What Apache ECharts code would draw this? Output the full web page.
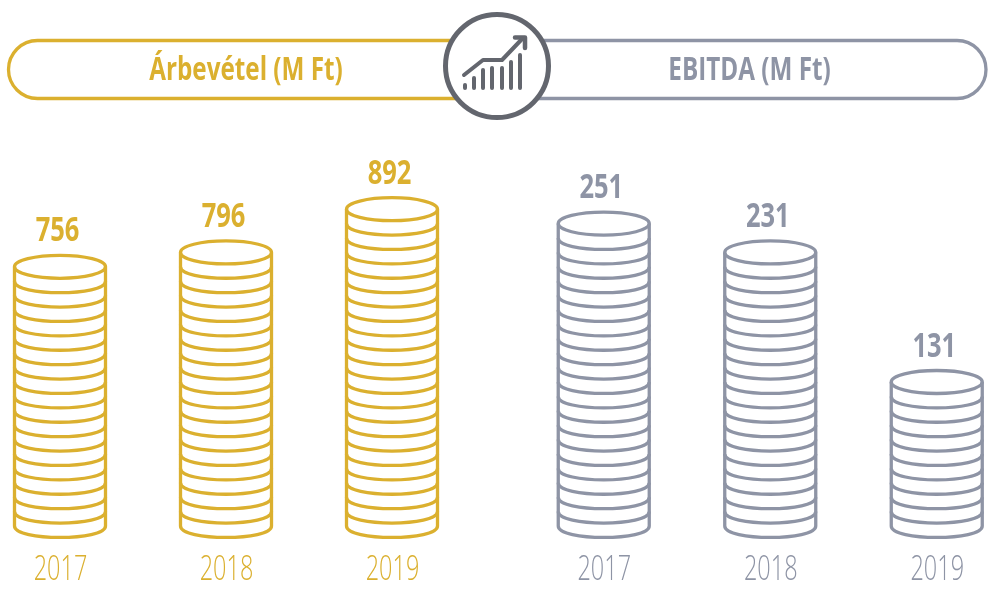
<!DOCTYPE html>
<html>
<head>
<meta charset="utf-8">
<title>Árbevétel, EBITDA</title>
<style>
	html, body { margin: 0; padding: 0; background: #fff; }
	#chart { width: 993px; height: 592px; }
</style>
<script src="https://cdn.jsdelivr.net/npm/echarts@6/dist/echarts.min.js"></script>
</head>
<body>
<div id="chart"></div>
<script>
var years = ["2017", "2018", "2019"]
var revenueValues = [756, 796, 892]
var revenueCoins = [18, 19, 22]
var ebitdaValues = [251, 231, 131]
var ebitdaCoins = [21, 19, 10]
var revenueTitle = "Árbevétel (M Ft)"
var ebitdaTitle = "EBITDA (M Ft)"

var GOLD = "#dbb02f"
var GRAY = "#8e94a5"
var DARK = "#63666e"
var FONT = "'Open Sans', sans-serif"

var COIN_RX = 45.5
var COIN_RY = 11.5
var LINE = 3.3

// one stack of coins, api.value: 0 year, 1 coins, 2 label
function renderStack(color) {
	return function(params, api) {
		var coins = api.value(1)
		var base = api.coord([api.value(0), 0])
		var top = api.coord([api.value(0), coins])
		var cx = base[0]
		var style = { fill: null, stroke: color, lineWidth: LINE }
		var children = [
			{
				type: "line",
				shape: { x1: cx - COIN_RX, y1: top[1], x2: cx - COIN_RX, y2: base[1] },
				style: style
			},
			{
				type: "line",
				shape: { x1: cx + COIN_RX, y1: top[1], x2: cx + COIN_RX, y2: base[1] },
				style: style
			},
			{
				type: "ellipse",
				shape: { cx: cx, cy: top[1], rx: COIN_RX, ry: COIN_RY },
				style: style
			},
			{
				// condensed look, no narrow font is installed
				type: "text",
				x: cx - 2.5,
				y: top[1] - 35,
				scaleX: 0.75,
				style: {
					text: String(api.value(2)),
					fill: color,
					font: "bold 34px " + FONT,
					textAlign: "center",
					textVerticalAlign: "middle"
				}
			},
			{
				type: "text",
				x: cx + 0.5,
				y: base[1] + 44,
				scaleX: 0.69,
				style: {
					text: years[api.value(0)],
					fill: color,
					font: "300 34px " + FONT,
					textAlign: "center",
					textVerticalAlign: "middle"
				}
			}
		]
		for (var i = 0; i < coins; i++) {
			var y = api.coord([api.value(0), i])[1]
			children.push({
				type: "bezierCurve",
				shape: {
					x1: cx - COIN_RX,
					y1: y,
					x2: cx + COIN_RX,
					y2: y,
					cpx1: cx - COIN_RX,
					cpy1: y + COIN_RY * 1.33,
					cpx2: cx + COIN_RX,
					cpy2: y + COIN_RY * 1.33
				},
				style: style
			})
		}
		return { type: "group", children: children }
	}
}

function stackData(coins, values) {
	return coins.map(function(c, i) {
		return [i, c, values[i]]
	})
}

function xAxisFor(gridIndex) {
	return {
		type: "category",
		gridIndex: gridIndex,
		data: years,
		axisLine: { show: false },
		axisTick: { show: false },
		axisLabel: { show: false }
	}
}

function yAxisFor(gridIndex) {
	return {
		type: "value",
		gridIndex: gridIndex,
		min: 0,
		max: 30,
		show: false
	}
}

function pill(x, width, color) {
	return {
		type: "rect",
		z: 1,
		shape: { x: x, y: 40.5, width: width, height: 58, r: 29 },
		style: { fill: "#fff", stroke: color, lineWidth: LINE }
	}
}

function title(text, x, color) {
	return {
		type: "text",
		z: 2,
		x: x,
		y: 71,
		scaleX: 0.735,
		style: {
			text: text,
			fill: color,
			font: "bold 33px " + FONT,
			textAlign: "center",
			textVerticalAlign: "middle"
		}
	}
}

function iconLine(points, width) {
	return {
		type: "polyline",
		z: 4,
		shape: { points: points },
		style: {
			fill: null,
			stroke: DARK,
			lineWidth: width,
			lineCap: "round",
			lineJoin: "round"
		}
	}
}

var iconBars = [
	[465, 85],
	[474, 78],
	[483, 70],
	[492, 68],
	[502, 68],
	[511, 62],
	[520, 55]
]

var graphics = [
	pill(8.5, 500, GOLD),
	pill(486, 500, GRAY),
	title(revenueTitle, 246, GOLD),
	title(ebitdaTitle, 749.5, GRAY),
	{
		type: "circle",
		z: 3,
		shape: { cx: 497, cy: 66, r: 51.5 },
		style: { fill: "#fff", stroke: DARK, lineWidth: 5 }
	},
	iconLine([[464, 75], [483, 60], [502, 60], [522, 39]], 4),
	iconLine([[515, 37.5], [525, 37.5], [525, 48]], 4.5)
].concat(
	iconBars.map(function(b) {
		return iconLine([[b[0], b[1]], [b[0], 88]], 4)
	})
)

var myChart = echarts.init(document.getElementById("chart"), null, { renderer: "canvas" })
myChart.setOption({
	animation: false,
	grid: [
		{ left: -23, width: 498, top: 94, height: 432, outerBoundsMode: "none" },
		{ left: 520.5, width: 499.5, top: 94, height: 432, outerBoundsMode: "none" }
	],
	xAxis: [xAxisFor(0), xAxisFor(1)],
	yAxis: [yAxisFor(0), yAxisFor(1)],
	series: [
		{
			type: "custom",
			xAxisIndex: 0,
			yAxisIndex: 0,
			clip: false,
			renderItem: renderStack(GOLD),
			encode: { x: 0, y: 1 },
			data: stackData(revenueCoins, revenueValues)
		},
		{
			type: "custom",
			xAxisIndex: 1,
			yAxisIndex: 1,
			clip: false,
			renderItem: renderStack(GRAY),
			encode: { x: 0, y: 1 },
			data: stackData(ebitdaCoins, ebitdaValues)
		}
	],
	graphic: { elements: graphics }
})
</script>
</body>
</html>
